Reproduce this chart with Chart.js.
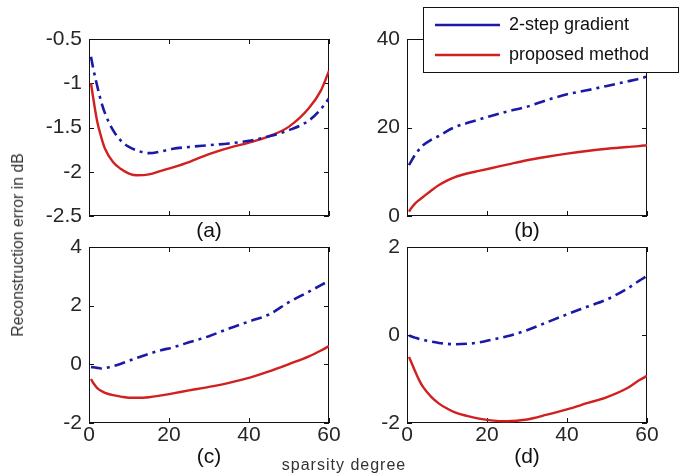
<!DOCTYPE html>
<html>
<head>
<meta charset="utf-8">
<script src="https://cdn.jsdelivr.net/npm/chart.js@4.4.1/dist/chart.umd.min.js"></script>
<style>
  html, body { margin: 0; padding: 0; background: #fff; }
  body { width: 688px; height: 475px; position: relative; overflow: hidden; font-family: "Liberation Sans", Arial, sans-serif; }
  canvas.panel { position: absolute; left: 0; top: 0; }
  #legend-box { position: absolute; left: 423px; top: 7px; width: 256px; height: 66px; box-sizing: border-box; border: 1px solid #111; background: #fff; }
  #legend-chart { position: absolute; left: 423px; top: 4px; }
  .fig-label { position: absolute; color: #333; white-space: nowrap; }
  #ylabel { left: 18px; top: 245px; font-size: 15.8px; transform: translate(-50%, -50%) rotate(-90deg); }
  #xlabel { left: 344px; top: 465px; font-size: 16px; transform: translate(-50%, -50%); letter-spacing: 1px; }
</style>
</head>
<body>
<canvas id="chart-a" class="panel" width="688" height="475"></canvas>
<canvas id="chart-b" class="panel" width="688" height="475"></canvas>
<canvas id="chart-c" class="panel" width="688" height="475"></canvas>
<canvas id="chart-d" class="panel" width="688" height="475"></canvas>
<div id="legend-box"></div>
<canvas id="legend-chart" width="480" height="80"></canvas>
<div id="ylabel" class="fig-label">Reconstruction error in dB</div>
<div id="xlabel" class="fig-label">sparsity degree</div>

<script>
// sparsity degree (x) shared by all four panels
const sparsity = [0.5, 1, 2, 3, 4, 6, 8, 10, 12, 15, 18, 21, 25, 30, 35, 40, 45, 50, 55, 58, 60];

// (a)
const gradA = [-0.70, -0.82, -1.02, -1.20, -1.34, -1.53, -1.65, -1.72, -1.76, -1.79, -1.77, -1.74, -1.72, -1.70, -1.68, -1.65, -1.60, -1.53, -1.42, -1.29, -1.17];
const propA = [-1.00, -1.15, -1.42, -1.60, -1.74, -1.89, -1.97, -2.02, -2.04, -2.03, -1.99, -1.95, -1.89, -1.80, -1.73, -1.67, -1.60, -1.49, -1.28, -1.08, -0.86];
// (b)
const gradB = [11.5, 12.3, 13.8, 15.0, 16.0, 17.2, 18.1, 19.2, 20.1, 21.0, 21.8, 22.6, 23.6, 24.7, 26.2, 27.5, 28.4, 29.4, 30.4, 31.0, 31.5];
const propB = [1.0, 1.7, 2.8, 3.6, 4.3, 5.7, 7.0, 8.0, 8.8, 9.6, 10.2, 10.8, 11.6, 12.6, 13.4, 14.1, 14.7, 15.2, 15.6, 15.8, 16.0];
// (c)
const gradC = [-0.09, -0.10, -0.12, -0.14, -0.13, -0.06, 0.02, 0.12, 0.22, 0.36, 0.48, 0.58, 0.75, 0.96, 1.22, 1.46, 1.70, 2.12, 2.48, 2.70, 2.85];
const propC = [-0.50, -0.62, -0.80, -0.90, -0.97, -1.05, -1.10, -1.14, -1.14, -1.12, -1.06, -0.99, -0.89, -0.77, -0.63, -0.46, -0.24, 0.01, 0.27, 0.47, 0.62];
// (d)
const gradD = [-0.01, -0.03, -0.06, -0.09, -0.11, -0.15, -0.18, -0.20, -0.21, -0.20, -0.17, -0.11, -0.03, 0.11, 0.29, 0.47, 0.64, 0.81, 1.05, 1.23, 1.34];
const propD = [-0.50, -0.60, -0.82, -1.02, -1.18, -1.40, -1.56, -1.67, -1.76, -1.84, -1.90, -1.94, -1.96, -1.92, -1.81, -1.69, -1.55, -1.41, -1.21, -1.03, -0.93];

// tick labels
const xTicks = [0, 20, 40, 60];
const yTicksA = [-2.5, -2, -1.5, -1, -0.5];
const yTicksB = [0, 20, 40];
const yTicksC = [-2, 0, 2, 4];
const yTicksD = [-2, 0, 2];

const seriesNames = ["2-step gradient", "proposed method"];

const BLUE = "#1a1aa6";
const RED = "#d02020";
const FONT = "'Liberation Sans', Arial, sans-serif";
const TICK_LEN = 5;

// MATLAB-like box with inward tick marks on all four sides
const boxPlugin = {
  id: "matlabBox",
  beforeDatasetsDraw(chart) {
    const { ctx, chartArea: a, scales } = chart;
    ctx.save();
    ctx.strokeStyle = "#111";
    ctx.lineWidth = 1;
    ctx.strokeRect(a.left + 0.5, a.top + 0.5, a.width - 1, a.height - 1);
    ctx.beginPath();
    scales.x.ticks.forEach((t) => {
      const px = Math.round(scales.x.getPixelForValue(t.value)) + 0.5;
      ctx.moveTo(px, a.bottom); ctx.lineTo(px, a.bottom - TICK_LEN);
      ctx.moveTo(px, a.top); ctx.lineTo(px, a.top + TICK_LEN);
    });
    scales.y.ticks.forEach((t) => {
      const py = Math.round(scales.y.getPixelForValue(t.value)) + 0.5;
      ctx.moveTo(a.left, py); ctx.lineTo(a.left + TICK_LEN, py);
      ctx.moveTo(a.right, py); ctx.lineTo(a.right - TICK_LEN, py);
    });
    ctx.stroke();
    ctx.restore();
  },
};

function toPoints(values) {
  return values.map((v, i) => ({ x: sparsity[i], y: v }));
}

function makeDatasets(grad, prop) {
  return [
    {
      label: seriesNames[0],
      data: toPoints(grad),
      borderColor: BLUE,
      borderWidth: 2.6,
      borderDash: [11, 5, 3, 5],
      pointRadius: 0,
      cubicInterpolationMode: "monotone",
    },
    {
      label: seriesNames[1],
      data: toPoints(prop),
      borderColor: RED,
      borderWidth: 2.4,
      pointRadius: 0,
      cubicInterpolationMode: "monotone",
    },
  ];
}

// one panel = one full-size canvas, plot area placed with layout padding
function criarPainel(id, grad, prop, yTicks, letter, area, showX) {
  const xHeight = showX ? 47 : 28;
  new Chart(document.getElementById(id), {
    type: "line",
    data: { datasets: makeDatasets(grad, prop) },
    options: {
      responsive: false,
      animation: false,
      layout: {
        padding: {
          left: area.left - 80,
          right: 688 - area.right,
          top: area.top,
          bottom: 475 - area.bottom - xHeight,
        },
      },
      plugins: { legend: { display: false }, tooltip: { enabled: false } },
      scales: {
        x: {
          type: "linear",
          min: 0,
          max: 60,
          afterBuildTicks: (s) => { s.ticks = xTicks.map((v) => ({ value: v })); },
          afterFit: (s) => { s.height = xHeight; },
          grid: { display: false, drawTicks: false },
          border: { display: false },
          ticks: { display: showX, padding: 0, color: "#262626", font: { family: FONT, size: 21 }, callback: (v) => String(v) },
          title: { display: true, text: letter, padding: 0, color: "#111", font: { family: FONT, size: 21 } },
        },
        y: {
          type: "linear",
          min: yTicks[0],
          max: yTicks[yTicks.length - 1],
          afterBuildTicks: (s) => { s.ticks = yTicks.map((v) => ({ value: v })); },
          afterFit: (s) => { s.width = 80; },
          grid: { display: false, drawTicks: false },
          border: { display: false },
          ticks: { padding: 7, color: "#262626", font: { family: FONT, size: 21 }, callback: (v) => String(v) },
        },
      },
    },
    plugins: [boxPlugin],
  });
}

criarPainel("chart-a", gradA, propA, yTicksA, "(a)", { left: 89, right: 329, top: 39, bottom: 216 }, false);
criarPainel("chart-b", gradB, propB, yTicksB, "(b)", { left: 407, right: 647, top: 39, bottom: 216 }, false);
criarPainel("chart-c", gradC, propC, yTicksC, "(c)", { left: 89, right: 329, top: 247, bottom: 423 }, true);
criarPainel("chart-d", gradD, propD, yTicksD, "(d)", { left: 407, right: 647, top: 247, bottom: 423 }, true);

// legend drawn by Chart.js in its own transparent canvas over panel (b)
new Chart(document.getElementById("legend-chart"), {
  type: "line",
  data: {
    datasets: makeDatasets([], []),
  },
  options: {
    responsive: false,
    animation: false,
    plugins: {
      tooltip: { enabled: false },
      legend: {
        position: "left",
        align: "start",
        labels: {
          usePointStyle: true,
          pointStyle: "line",
          pointStyleWidth: 65,
          padding: 12,
          color: "#111",
          font: { family: FONT, size: 18 },
        },
      },
    },
    scales: { x: { display: false }, y: { display: false } },
  },
});
</script>
</body>
</html>
